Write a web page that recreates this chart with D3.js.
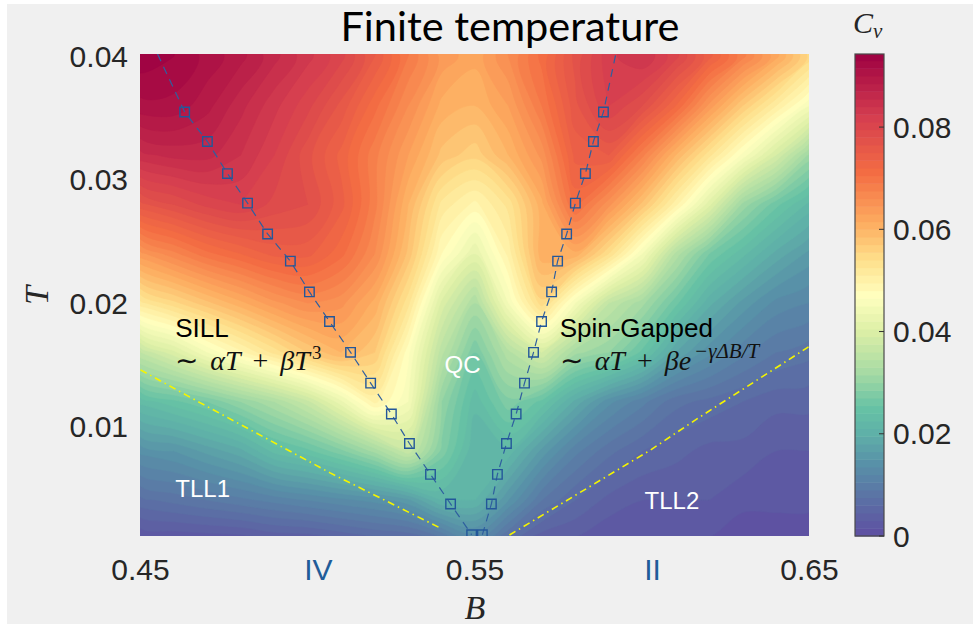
<!DOCTYPE html>
<html>
<head>
<meta charset="utf-8">
<script src="https://cdn.jsdelivr.net/npm/d3@7"></script>
<style>
    body { margin: 0; background: #ffffff; }
    .tick-label { font-family: "Liberation Sans", Arial, sans-serif; font-size: 30px; fill: #262626; }
    .math { font-family: "Liberation Serif", "Times New Roman", serif; }
    .note { font-family: "Liberation Sans", Arial, sans-serif; }
</style>
</head>
<body>
<div id="chart"></div>
<script>

// field sampling grid
const bGrid = [0.45, 0.46, 0.47, 0.48, 0.49, 0.50, 0.51, 0.52, 0.53, 0.54, 0.55,
               0.56, 0.57, 0.58, 0.59, 0.60, 0.61, 0.62, 0.63, 0.64, 0.65];
const tGrid = [0.040, 0.036, 0.032, 0.028, 0.024, 0.020, 0.016, 0.012, 0.008, 0.004, 0.000];

// Cv (x 1e-3), one row per tGrid value, one column per bGrid value
const cvRows = [
    [94, 93, 91, 89, 86, 83, 80, 75, 69, 64, 62, 66, 71, 77, 82, 84, 80, 74, 68, 62, 55],
    [91, 91, 89, 86, 83, 80, 76, 71, 66, 61, 60, 63, 69, 76, 81, 78, 72, 64, 57, 51, 45],
    [85, 86, 86, 84, 81, 77, 73, 68, 63, 58, 56, 60, 65, 74, 75, 68, 60, 53, 46, 39, 31],
    [76, 78, 80, 81, 79, 78, 74, 68, 60, 52, 49, 53, 61, 71, 65, 58, 50, 41, 31, 26, 22],
    [64, 67, 70, 72, 74, 74, 71, 66, 58, 48, 42, 50, 61, 61, 54, 45, 34, 27, 23, 19, 16],
    [52, 55, 58, 61, 64, 66, 65, 61, 53, 40, 33, 45, 55, 45, 36, 32, 26, 20, 16, 13, 12],
    [36, 40, 45, 49, 53, 57, 60, 57, 47, 35, 27, 34, 39, 32, 30, 25, 18, 14, 11,  9,  8],
    [23, 25, 27, 30, 33, 37, 43, 50, 45, 30, 23, 28, 25, 19, 14, 11,  8,  7,  6,  5,  5],
    [14, 15, 17, 19, 23, 25, 28, 32, 37, 28, 21, 22, 16, 11,  8,  6,  5,  4,  4,  3,  3],
    [ 7,  8,  9, 10, 11, 12, 13, 14, 16, 21, 21, 15,  9,  6,  4,  3,  3,  3,  2,  2,  2],
    [ 0,  0,  0,  0,  1,  1,  2,  3,  3,  5, 10,  5,  2,  2,  1,  1,  1,  1,  0,  0,  0]
];

// Cv peak positions (squares)
const leftB  = [0.4632, 0.4700, 0.4760, 0.4820, 0.4880, 0.4948, 0.5005, 0.5065, 0.5128, 0.5188, 0.5250, 0.5304, 0.5367, 0.5427, 0.5490];
const leftT  = [0.0355, 0.0331, 0.0305, 0.0281, 0.0256, 0.0234, 0.0209, 0.0185, 0.0160, 0.0135, 0.0110, 0.0086, 0.0061, 0.0037, 0.0012];
const rightB = [0.5522, 0.5549, 0.5567, 0.5594, 0.5623, 0.5648, 0.5675, 0.5699, 0.5729, 0.5747, 0.5774, 0.5800, 0.5830, 0.5854, 0.5884];
const rightT = [0.0012, 0.0037, 0.0061, 0.0086, 0.0110, 0.0135, 0.0160, 0.0185, 0.0209, 0.0234, 0.0256, 0.0281, 0.0305, 0.0331, 0.0355];

// dashed guide lines through the peaks, extended to the top
const leftLineB  = [0.4551, 0.4632, 0.4700, 0.4760, 0.4820, 0.4880, 0.4948, 0.5005, 0.5065, 0.5128, 0.5188, 0.5250, 0.5304, 0.5367, 0.5427, 0.5490];
const leftLineT  = [0.0402, 0.0355, 0.0331, 0.0305, 0.0281, 0.0256, 0.0234, 0.0209, 0.0185, 0.0160, 0.0135, 0.0110, 0.0086, 0.0061, 0.0037, 0.0012];
const rightLineB = [0.5522, 0.5549, 0.5567, 0.5594, 0.5623, 0.5648, 0.5675, 0.5699, 0.5729, 0.5747, 0.5774, 0.5800, 0.5830, 0.5854, 0.5884, 0.5921];
const rightLineT = [0.0012, 0.0037, 0.0061, 0.0086, 0.0110, 0.0135, 0.0160, 0.0185, 0.0209, 0.0234, 0.0256, 0.0281, 0.0305, 0.0331, 0.0355, 0.0402];

// crossover lines (yellow dash-dot)
const tll1B = [0.4500, 0.4679, 0.5067, 0.5396];
const tll1T = [0.01458, 0.01190, 0.00622, 0.00175];
const tll2B = [0.5603, 0.6025, 0.6168, 0.6497];
const tll2T = [0.00118, 0.00808, 0.01068, 0.01644];

const xTicks = [0.45, 0.55, 0.65];
const yTicks = [0.01, 0.02, 0.03, 0.04];
const cbTicks = [0, 0.02, 0.04, 0.06, 0.08];

const cvMax = 0.0943;
const cvStops = [0, 0.0076, 0.014, 0.020, 0.025, 0.032, 0.040, 0.047, 0.054, 0.061, 0.071, 0.082, 0.0943];
const cvColors = ['#5e4fa2', '#5b72a5', '#5890a8', '#5fb0a8', '#66c2a5', '#a6daa4', '#dcefa6',
                  '#ffffbf', '#fee08b', '#fdae61', '#f46d43', '#d53e4f', '#9e0142'];

class PhaseVis {

    constructor(parentElement) {
        this.parentElement = parentElement;
        this.initVis();
    }

    initVis() {
        let vis = this;

        vis.width = 973;
        vis.height = 625;
        vis.plot = {left: 140, right: 809, top: 54, bottom: 536};

        vis.svg = d3.select("#" + vis.parentElement).append("svg")
            .attr("width", vis.width)
            .attr("height", vis.height);

        vis.svg.append("rect")
            .attr("x", 7).attr("y", 4)
            .attr("width", vis.width - 7).attr("height", vis.height - 5)
            .attr("fill", "#f0f0f0");

        vis.x = d3.scaleLinear().domain([0.45, 0.65]).range([140.5, 809.5]);
        vis.y = d3.scaleLinear().domain([0.0011, 0.0402]).range([vis.plot.bottom, vis.plot.top]);
        vis.cb = d3.scaleLinear().domain([0, cvMax]).range([vis.plot.bottom, vis.plot.top]);

        vis.color = d3.scaleLinear().domain(cvStops).range(cvColors).clamp(true);

        vis.svg.append("clipPath").attr("id", "plot-clip")
            .append("rect")
            .attr("x", vis.plot.left).attr("y", vis.plot.top)
            .attr("width", vis.plot.right - vis.plot.left)
            .attr("height", vis.plot.bottom - vis.plot.top);

        vis.field = vis.svg.append("g").attr("clip-path", "url(#plot-clip)");
        vis.lines = vis.svg.append("g").attr("clip-path", "url(#plot-clip)");
        vis.labels = vis.svg.append("g");

        vis.wrangleData();
    }

    wrangleData() {
        let vis = this;

        vis.step = 0.0015;
        vis.thresholds = d3.range(0, cvMax, vis.step);
        vis.values = cvRows.flat().map(d => d / 1000);
        vis.bands = d3.contours()
            .size([bGrid.length, tGrid.length])
            .thresholds(vis.thresholds)(vis.values);

        vis.left = leftB.map((b, i) => ({B: b, T: leftT[i]}));
        vis.right = rightB.map((b, i) => ({B: b, T: rightT[i]}));

        vis.updateVis();
    }

    updateVis() {
        let vis = this;
        let n = bGrid.length, m = tGrid.length;

        // grid units -> pixels (samples sit at cell centres)
        let gx = d3.scaleLinear().domain([0.5, n - 0.5]).range([vis.x(bGrid[0]), vis.x(bGrid[n - 1])]);
        let gy = d3.scaleLinear().domain([0.5, m - 0.5]).range([vis.y(tGrid[0]), vis.y(tGrid[m - 1])]);

        // smooth each contour ring instead of straight marching-squares segments
        let ring = d3.line().curve(d3.curveCatmullRomClosed.alpha(0.5));
        let bandPath = function (band) {
            let s = "";
            band.coordinates.forEach(poly => {
                poly.forEach(r => {
                    let pts = r.slice(0, -1).map(p => [gx(p[0]), gy(p[1])]);
                    s += ring(pts);
                });
            });
            return s;
        };

        vis.field.selectAll("path")
            .data(vis.bands)
            .enter().append("path")
            .attr("d", bandPath)
            .attr("fill", d => vis.color(d.value + vis.step / 2))
            .attr("stroke", d => vis.color(d.value + vis.step / 2))
            .attr("stroke-width", 0.6);

        // crossover lines
        let line = d3.line().x(d => vis.x(d[0])).y(d => vis.y(d[1]));
        [[tll1B, tll1T], [tll2B, tll2T]].forEach(([bs, ts]) => {
            vis.lines.append("path")
                .attr("d", line(bs.map((b, i) => [b, ts[i]])))
                .attr("fill", "none")
                .attr("stroke", "#f5f500")
                .attr("stroke-width", 1.6)
                .attr("stroke-dasharray", "7,4,1.5,4");
        });

        // peak guide lines
        [[leftLineB, leftLineT], [rightLineB, rightLineT]].forEach(([bs, ts]) => {
            vis.lines.append("path")
                .attr("d", line(bs.map((b, i) => [b, ts[i]])))
                .attr("fill", "none")
                .attr("stroke", "#2f5f9f")
                .attr("stroke-width", 1.2)
                .attr("stroke-dasharray", "8,6");
        });

        let square = d3.symbol(d3.symbolSquare, 90);
        vis.lines.selectAll(".peak")
            .data(vis.left.concat(vis.right))
            .enter().append("path")
            .attr("class", "peak")
            .attr("d", square)
            .attr("transform", d => `translate(${vis.x(d.B)},${vis.y(d.T)})`)
            .attr("fill", "none")
            .attr("stroke", "#23579a")
            .attr("stroke-width", 1.4);

        // axes labels
        vis.labels.selectAll(".x-tick")
            .data(xTicks)
            .enter().append("text")
            .attr("class", "tick-label x-tick")
            .attr("x", d => vis.x(d))
            .attr("y", 580)
            .attr("text-anchor", "middle")
            .text(d => d.toFixed(2));

        vis.labels.selectAll(".y-tick")
            .data(yTicks)
            .enter().append("text")
            .attr("class", "tick-label y-tick")
            .attr("x", 128)
            .attr("y", d => vis.y(d))
            .attr("dy", "0.35em")
            .attr("text-anchor", "end")
            .text(d => d.toFixed(2));

        vis.labels.append("text")
            .attr("class", "math")
            .attr("x", vis.x(0.55))
            .attr("y", 619)
            .attr("text-anchor", "middle")
            .style("font-size", "34px")
            .style("font-style", "italic")
            .attr("fill", "#262626")
            .text("B");

        vis.labels.append("text")
            .attr("class", "math")
            .attr("transform", `translate(48,${vis.y(0.0206)}) rotate(-90)`)
            .attr("text-anchor", "middle")
            .style("font-size", "34px")
            .style("font-style", "italic")
            .attr("fill", "#262626")
            .text("T");

        // phase numerals under the axis
        [["IV", 0.5032], ["II", 0.6031]].forEach(([s, b]) => {
            vis.labels.append("text")
                .attr("class", "tick-label")
                .attr("x", vis.x(b))
                .attr("y", 580)
                .attr("text-anchor", "middle")
                .style("fill", "#1f5c99")
                .text(s);
        });

        vis.svg.append("text")
            .attr("x", 510)
            .attr("y", 41)
            .attr("text-anchor", "middle")
            .style("font-family", "Lato, 'Open Sans', sans-serif")
            .style("font-size", "41.5px")
            .attr("fill", "#000")
            .text("Finite temperature");

        vis.drawNotes();
        vis.drawColorbar();
    }

    drawNotes() {
        let vis = this;

        let note = (txt, b, t, size, color, anchor) => vis.labels.append("text")
            .attr("class", "note")
            .attr("x", vis.x(b))
            .attr("y", vis.y(t))
            .attr("text-anchor", anchor || "start")
            .style("font-size", size + "px")
            .attr("fill", color)
            .text(txt);

        note("SILL", 0.4604, 0.01725, 26, "#000");
        note("Spin-Gapped", 0.5753, 0.01725, 26, "#000");
        note("QC", 0.5463, 0.01433, 24, "#fff", "middle");
        note("TLL1", 0.4604, 0.00427, 24, "#fff");
        note("TLL2", 0.6007, 0.0033, 24, "#fff");

        // ~ αT + βT^3
        let f1 = vis.labels.append("text")
            .attr("class", "math")
            .attr("x", vis.x(0.4604))
            .attr("y", vis.y(0.01458))
            .style("font-size", "28px")
            .attr("fill", "#111");
        f1.append("tspan").text("\u223C");
        f1.append("tspan").attr("dx", 12).style("font-style", "italic").text("\u03B1T");
        f1.append("tspan").attr("dx", 12).text("+");
        f1.append("tspan").attr("dx", 12).style("font-style", "italic").text("\u03B2T");
        f1.append("tspan").attr("dx", 2).attr("dy", -11).style("font-size", "19px").text("3");

        // ~ αT + βe^{-γΔB/T}
        let f2 = vis.labels.append("text")
            .attr("class", "math")
            .attr("x", vis.x(0.5753))
            .attr("y", vis.y(0.01458))
            .style("font-size", "28px")
            .attr("fill", "#111");
        f2.append("tspan").text("\u223C");
        f2.append("tspan").attr("dx", 12).style("font-style", "italic").text("\u03B1T");
        f2.append("tspan").attr("dx", 12).text("+");
        f2.append("tspan").attr("dx", 12).style("font-style", "italic").text("\u03B2e");
        f2.append("tspan").attr("dx", 3).attr("dy", -12)
            .style("font-size", "21px").style("font-style", "italic")
            .text("\u2212\u03B3\u0394B/T");
    }

    drawColorbar() {
        let vis = this;
        let x0 = 855, w = 29;

        let g = vis.svg.append("g").attr("class", "colorbar");

        g.selectAll("rect.band")
            .data(vis.thresholds)
            .enter().append("rect")
            .attr("class", "band")
            .attr("x", x0)
            .attr("y", d => vis.cb(Math.min(d + vis.step, cvMax)))
            .attr("width", w)
            .attr("height", d => vis.cb(d) - vis.cb(Math.min(d + vis.step, cvMax)) + 0.5)
            .attr("fill", d => vis.color(d + vis.step / 2));

        g.append("rect")
            .attr("x", x0).attr("y", vis.plot.top)
            .attr("width", w).attr("height", vis.plot.bottom - vis.plot.top)
            .attr("fill", "none")
            .attr("stroke", "#4a4a4a")
            .attr("stroke-width", 1.2);

        g.selectAll(".cb-tick")
            .data(cbTicks)
            .enter().append("line")
            .attr("class", "cb-tick")
            .attr("x1", x0 + w - 5).attr("x2", x0 + w)
            .attr("y1", d => vis.cb(d)).attr("y2", d => vis.cb(d))
            .attr("stroke", "#333");

        g.selectAll(".cb-label")
            .data(cbTicks)
            .enter().append("text")
            .attr("class", "tick-label cb-label")
            .attr("x", 893)
            .attr("y", d => vis.cb(d))
            .attr("dy", "0.35em")
            .text(d => d === 0 ? "0" : d.toFixed(2));

        let cv = g.append("text")
            .attr("class", "math")
            .attr("x", 853)
            .attr("y", 33)
            .style("font-size", "30px")
            .style("font-style", "italic")
            .attr("fill", "#262626");
        cv.append("tspan").text("C");
        cv.append("tspan").attr("dy", 5).style("font-size", "21px").text("v");
    }
}

new PhaseVis("chart");

</script>
</body>
</html>
